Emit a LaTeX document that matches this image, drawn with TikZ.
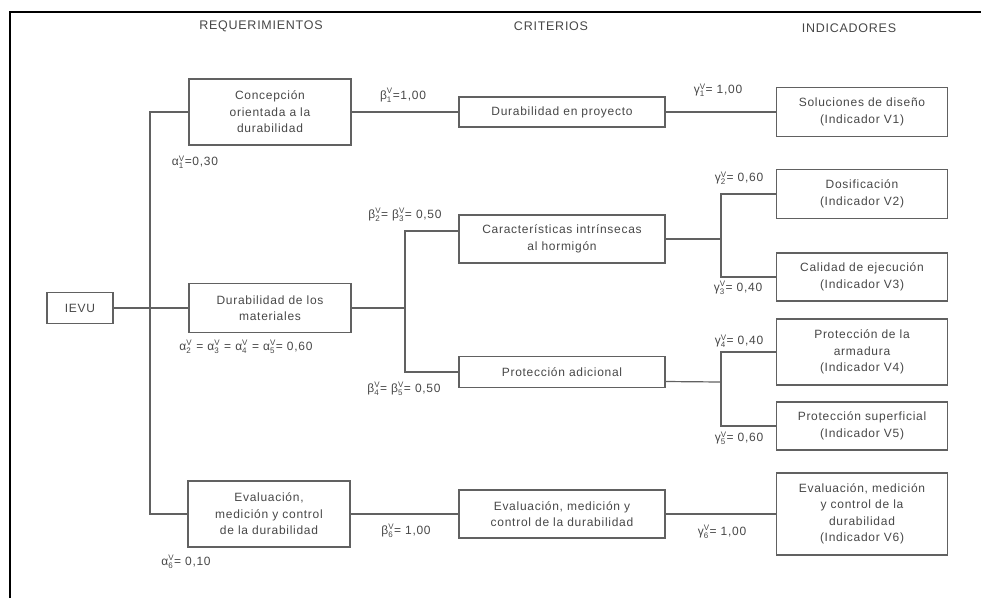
\documentclass[tikz,border=0pt]{standalone}
\usepackage{amsmath}
\usepackage{fontspec}
\setmainfont[LetterSpace=6]{Liberation Sans}
\usetikzlibrary{positioning}
\colorlet{txt}{black!72}
\colorlet{edge}{black!62}
\newcommand{\wgt}[2]{$\text{#1}^{\text{V}}_{\text{#2}}$}

\begin{document}
\begin{tikzpicture}[x=1pt,y=-1pt,
		box/.style={draw=edge, line width=1.2pt, text=txt, align=center, inner sep=2pt, font=\fontsize{12}{16.5}\selectfont},
		req/.style={box, minimum width=162pt},
		cri/.style={box, minimum width=206pt},
		ind/.style={box, minimum width=171pt},
		head/.style={text=txt, font=\fontsize{12.5}{14}\selectfont},
		weight/.style={text=txt, inner sep=0pt, font=\fontsize{12}{13}\selectfont},
		link/.style={draw=edge, line width=1.2pt}
		]
		\useasboundingbox (0,0) rectangle (981,598);
		
		% Marco
		\draw[black, line width=1.5pt] (10,598) -- (10,12) -- (981,12);
		
		% Encabezados
		\node[head] (hreq) at (261,26) {REQUERIMIENTOS};
		\node[head] (hcri) at (551,26) {CRITERIOS};
		\node[head] (hind) at (849,28) {INDICADORES};
		
		% Las cajas
		\node[box, minimum width=66pt, minimum height=31pt] (ievu) at (80,308) {IEVU};
		
		\node[req, minimum height=66pt] (req1) at (270,112) {Concepción\\orientada a la\\durabilidad};
		\node[req, minimum height=49pt] (req2) at (270,308) {Durabilidad de los\\materiales};
		\node[req, minimum height=66pt] (req3) at (269,514) {Evaluación,\\medición y control\\de la durabilidad};
		
		\node[cri, minimum height=30pt] (cri1) at (562,112) {Durabilidad en proyecto};
		\node[cri, minimum height=48pt] (cri2) at (562,239) {Características intrínsecas\\al hormigón};
		\node[cri, minimum height=31pt] (cri3) at (562,372) {Protección adicional};
		\node[cri, minimum height=48pt] (cri4) at (562,514) {Evaluación, medición y\\control de la durabilidad};
		
		\node[ind, minimum height=49pt] (ind1) at (862,112) {Soluciones de diseño\\(Indicador V1)};
		\node[ind, minimum height=49pt] (ind2) at (862,194) {Dosificación\\(Indicador V2)};
		\node[ind, minimum height=48pt] (ind3) at (862,277) {Calidad de ejecución\\(Indicador V3)};
		\node[ind, minimum height=66pt] (ind4) at (862,352) {Protección de la\\armadura\\(Indicador V4)};
		\node[ind, minimum height=48pt] (ind5) at (862,426) {Protección superficial\\(Indicador V5)};
		\node[ind, minimum height=82pt] (ind6) at (862,514) {Evaluación, medición\\y control de la\\durabilidad\\(Indicador V6)};
		
		% Puntos de reparto
		\coordinate (t1) at (150,308);
		\coordinate (f1) at (405,308);
		\coordinate (f2) at (721,239);
		\coordinate (f3) at (721,382);
		
		% Las uniones
		\draw[link] (ievu) -- (t1);
		\draw[link] (req1.west) -| (t1) |- (req3.west);
		\draw[link] (t1) -- (req2);
		\draw[link] (req1) -- (cri1) -- (ind1);
		\draw[link] (req2) -- (f1);
		\draw[link] ([yshift=8pt]cri2.west) -| (f1) |- (cri3.west);
		\draw[link] (cri2) -- (f2);
		\draw[link] (ind2.west) -| (f2) |- (ind3.west);
		\draw[link] ([yshift=-9.5pt]cri3.east) -- (f3);
		\draw[link] (ind4.west) -| (f3) |- (ind5.west);
		\draw[link] (req3) -- (cri4) -- (ind6);
		
		% Los pesos
		\node[weight] (a1) at (195,162) {\wgt{α}{1}=0,30};
		\node[weight] (a2) at (246,347) {\wgt{α}{2} = \wgt{α}{3} = \wgt{α}{4} = \wgt{α}{5}= 0,60};
		\node[weight] (a6) at (186,562) {\wgt{α}{6}= 0,10};
		\node[weight] (b1) at (403,95) {\wgt{β}{1}=1,00};
		\node[weight] (b2) at (405,215) {\wgt{β}{2}= \wgt{β}{3}= 0,50};
		\node[weight] (b4) at (404,389) {\wgt{β}{4}= \wgt{β}{5}= 0,50};
		\node[weight] (b6) at (406,531) {\wgt{β}{6}= 1,00};
		\node[weight] (g1) at (718,90) {\wgt{γ}{1}= 1,00};
		\node[weight] (g2) at (739,178) {\wgt{γ}{2}= 0,60};
		\node[weight] (g3) at (738,288) {\wgt{γ}{3}= 0,40};
		\node[weight] (g4) at (739,341) {\wgt{γ}{4}= 0,40};
		\node[weight] (g5) at (739,438) {\wgt{γ}{5}= 0,60};
		\node[weight] (g6) at (722,532) {\wgt{γ}{6}= 1,00};
	\end{tikzpicture}
\end{document}
